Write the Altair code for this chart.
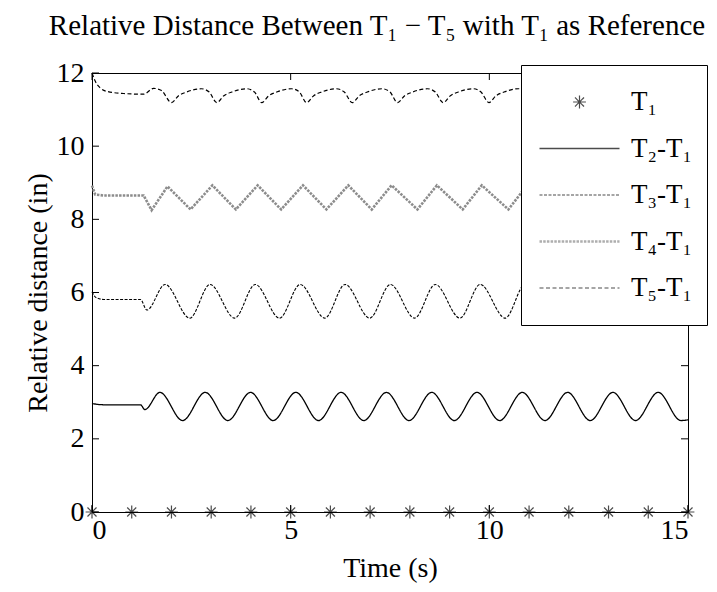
import altair as alt
import pandas as pd

FONT = "Liberation Serif"

SERIES = ["T₁", "T₂-T₁", "T₃-T₁", "T₄-T₁", "T₅-T₁"]
TITLE = "Relative Distance Between T₁ − T₅ with T₁ as Reference"
X_TITLE = "Time (s)"
Y_TITLE = "Relative distance (in)"
X_TICKS = [0, 5, 10, 15]
Y_TICKS = [0, 2, 4, 6, 8, 10, 12]

T1_TIME = [0, 1, 2, 3, 4, 5, 6, 7, 8, 9, 10, 11, 12, 13, 14, 15]
T1_VALUE = [0, 0, 0, 0, 0, 0, 0, 0, 0, 0, 0, 0, 0, 0, 0, 0]

T2_TIME = [0.0, 0.15, 0.35, 1.22, 1.33, 1.71, 2.28, 2.85, 3.42, 3.99, 4.56, 5.13, 5.70,
           6.27, 6.84, 7.41, 7.98, 8.55, 9.12, 9.69, 10.26, 10.83, 11.40, 11.97, 12.54,
           13.11, 13.68, 14.25, 14.82, 15.0]
T2_VALUE = [2.97, 2.94, 2.93, 2.93, 2.80, 3.27, 2.50, 3.27, 2.50, 3.27, 2.50, 3.27, 2.50,
            3.27, 2.50, 3.27, 2.50, 3.27, 2.50, 3.27, 2.50, 3.27, 2.50, 3.27, 2.50,
            3.27, 2.50, 3.27, 2.50, 2.52]

T3_TIME = [0.0, 0.1, 0.3, 1.22, 1.38, 1.84, 2.46, 2.97, 3.59, 4.11, 4.72, 5.24, 5.86,
           6.37, 6.99, 7.51, 8.12, 8.64, 9.26, 9.77, 10.40, 10.90, 11.52, 12.04, 12.66,
           13.17, 13.79, 14.30, 14.92, 15.0]
T3_VALUE = [6.02, 5.86, 5.81, 5.81, 5.52, 6.22, 5.30, 6.22, 5.30, 6.22, 5.30, 6.22, 5.30,
            6.22, 5.30, 6.22, 5.30, 6.22, 5.30, 6.22, 5.30, 6.22, 5.30, 6.22, 5.30,
            6.22, 5.30, 6.22, 5.30, 5.31]

T4_TIME = [0.0, 0.08, 0.3, 1.3, 1.5, 1.9, 2.48, 3.03, 3.62, 4.17, 4.76, 5.31, 5.90,
           6.45, 7.04, 7.54, 8.19, 8.68, 9.33, 9.81, 10.48, 10.95, 11.62, 12.09, 12.76,
           13.23, 13.90, 14.37, 15.0]
T4_VALUE = [8.92, 8.68, 8.65, 8.65, 8.25, 8.90, 8.27, 8.93, 8.27, 8.93, 8.27, 8.93, 8.27,
            8.93, 8.27, 8.93, 8.27, 8.93, 8.27, 8.93, 8.27, 8.93, 8.27, 8.93, 8.27,
            8.93, 8.27, 8.93, 8.28]

T5_TIME = [0.0, 0.08, 0.2, 0.4, 0.8, 1.3, 1.55, 1.75,
           2.00, 2.18, 2.38, 2.75, 2.95,
           3.14, 3.32, 3.52, 3.89, 4.09,
           4.27, 4.45, 4.65, 5.02, 5.22,
           5.40, 5.58, 5.78, 6.15, 6.35,
           6.55, 6.73, 6.93, 7.30, 7.50,
           7.69, 7.87, 8.07, 8.44, 8.64,
           8.84, 9.02, 9.22, 9.59, 9.79,
           9.99, 10.17, 10.37, 10.74, 10.94,
           11.13, 11.31, 11.51, 11.88, 12.08,
           12.27, 12.45, 12.65, 13.02, 13.22,
           13.41, 13.59, 13.79, 14.16, 14.36,
           14.55, 14.73, 14.93, 15.0]
T5_VALUE = [12.0, 11.78, 11.60, 11.49, 11.44, 11.42, 11.58, 11.52,
            11.19, 11.38, 11.48, 11.57, 11.48,
            11.19, 11.38, 11.48, 11.57, 11.48,
            11.19, 11.38, 11.48, 11.57, 11.48,
            11.19, 11.38, 11.48, 11.57, 11.48,
            11.19, 11.38, 11.48, 11.57, 11.48,
            11.19, 11.38, 11.48, 11.57, 11.48,
            11.19, 11.38, 11.48, 11.57, 11.48,
            11.19, 11.38, 11.48, 11.57, 11.48,
            11.19, 11.38, 11.48, 11.57, 11.48,
            11.19, 11.38, 11.48, 11.57, 11.48,
            11.19, 11.38, 11.48, 11.57, 11.48,
            11.19, 11.38, 11.48, 11.49]

# ---- style ----
AST = ("M0,-0.16L0,0.16M-0.16,0L0.16,0"
       "M-0.113,-0.113L0.113,0.113M-0.113,0.113L0.113,-0.113")
DASHES = [[1, 0], [1, 0], [3, 1.5], [2.5, 1.2], [4, 2.5]]
COLORS = ["#000000", "#000000", "#000000", "#8c8c8c", "#000000"]
WIDTHS = [1.2, 1.3, 1.1, 2.6, 1.2]
SHAPES = [AST, "stroke", "stroke", "stroke", "stroke"]

W, H = 596, 439


def frame(times, values, name):
    return pd.DataFrame({"t": times, "v": values, "series": name})


lines_df = pd.concat([
    frame(T2_TIME, T2_VALUE, SERIES[1]),
    frame(T3_TIME, T3_VALUE, SERIES[2]),
    frame(T5_TIME, T5_VALUE, SERIES[4]),
])
t4_df = frame(T4_TIME, T4_VALUE, SERIES[3])
t1_df = frame(T1_TIME, T1_VALUE, SERIES[0])
xt_df = pd.DataFrame({"t": X_TICKS})
yt_df = pd.DataFrame({"v": Y_TICKS})

leg = alt.Legend(
    title=None, orient="none", legendX=429, legendY=-8,
    fillColor="white", strokeColor="black", padding=15, cornerRadius=0,
    symbolSize=6400, clipHeight=44, rowPadding=2.5, symbolOffset=2,
    labelFont=FONT, labelFontSize=27, labelColor="black", labelOffset=10,
    labelLimit=300,
)

x_enc = alt.X("t:Q", scale=alt.Scale(domain=[0, 15], nice=False, zero=False),
              axis=alt.Axis(values=X_TICKS, title=X_TITLE, ticks=False, domain=False,
                            grid=False, labelPadding=4, titlePadding=10))
y_enc = alt.Y("v:Q", scale=alt.Scale(domain=[0, 12], nice=False),
              axis=alt.Axis(values=Y_TICKS, title=Y_TITLE, ticks=False, domain=False,
                            grid=False, labelPadding=8, titlePadding=4))

dash_enc = alt.StrokeDash("series:N", scale=alt.Scale(domain=SERIES, range=DASHES), legend=leg)
color_enc = alt.Color("series:N", scale=alt.Scale(domain=SERIES, range=COLORS), legend=leg)
width_enc = alt.StrokeWidth("series:N", scale=alt.Scale(type="ordinal", domain=SERIES, range=WIDTHS), legend=leg)

lines = alt.Chart(lines_df).mark_line(interpolate="monotone").encode(
    x=x_enc, y=y_enc, strokeDash=dash_enc, color=color_enc, strokeWidth=width_enc)
t4 = alt.Chart(t4_df).mark_line(interpolate="linear").encode(
    x=x_enc, y=y_enc, strokeDash=dash_enc, color=color_enc, strokeWidth=width_enc)
pts = alt.Chart(t1_df).mark_point(filled=False, size=6400, color="black", strokeWidth=1.2).encode(
    x=x_enc, y=y_enc,
    shape=alt.Shape("series:N", scale=alt.Scale(domain=SERIES, range=SHAPES), legend=leg))

xt_bottom = alt.Chart(xt_df).mark_rule(color="black").encode(
    x="t:Q", y=alt.value(H), y2=alt.value(H - 7))
xt_top = alt.Chart(xt_df).mark_rule(color="black").encode(
    x="t:Q", y=alt.value(0), y2=alt.value(7))
yt_left = alt.Chart(yt_df).mark_rule(color="black").encode(
    y="v:Q", x=alt.value(0), x2=alt.value(7))
yt_right = alt.Chart(yt_df).mark_rule(color="black").encode(
    y="v:Q", x=alt.value(W - 7), x2=alt.value(W))

chart = alt.layer(lines, t4, xt_bottom, xt_top, yt_left, yt_right, pts).properties(
    width=W, height=H,
    autosize=alt.AutoSizeParams(type="none"),
    padding={"left": 84, "top": 65, "right": 21, "bottom": 72},
    background="white",
    title=alt.TitleParams(TITLE, font=FONT, fontSize=29, fontWeight="normal",
                          anchor="middle", frame="group", dx=-13, dy=9,
                          baseline="alphabetic", offset=4, color="black"),
).configure_view(stroke="black", strokeWidth=1).configure_axis(
    labelFont=FONT, labelFontSize=28, labelColor="black",
    titleFont=FONT, titleFontSize=28, titleFontWeight="normal", titleColor="black",
)

chart.save("out.html", embed_options={"renderer": "svg", "actions": False})
